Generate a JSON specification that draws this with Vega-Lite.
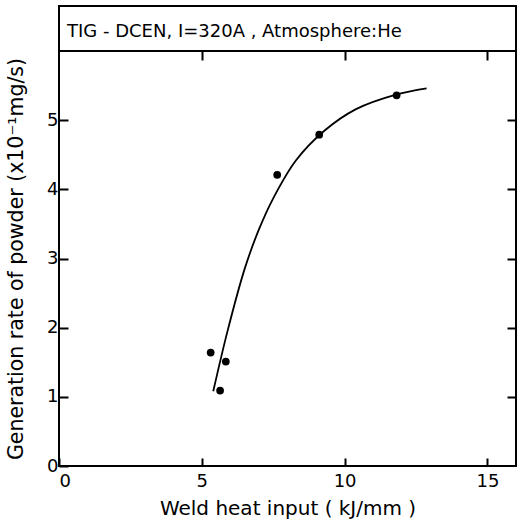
{
  "$schema": "https://vega.github.io/schema/vega-lite/v6.json",
  "padding": {"left": 5, "top": 5, "right": 2, "bottom": 2},
  "spacing": 0,
  "bounds": "flush",
  "config": {
    "font": "DejaVu Sans",
    "view": {"stroke": "black", "strokeWidth": 2},
    "axis": {
      "domain": false,
      "grid": false,
      "tickColor": "black",
      "tickWidth": 2,
      "labelColor": "black",
      "titleColor": "black",
      "labelFontSize": 18,
      "titleFontSize": 20,
      "titleFontWeight": "normal",
      "labelFont": "DejaVu Sans",
      "titleFont": "DejaVu Sans"
    }
  },
  "vconcat": [
    {
      "width": 457,
      "height": 45,
      "data": {"values": [{"label": "TIG - DCEN, I=320A , Atmosphere:He", "px": 0.28, "py": 0.42}]},
      "mark": {"type": "text", "align": "left", "baseline": "middle", "fontSize": 18, "color": "black", "font": "DejaVu Sans"},
      "encoding": {
        "x": {"field": "px", "type": "quantitative", "scale": {"domain": [0, 16]}, "axis": null},
        "y": {"field": "py", "type": "quantitative", "scale": {"domain": [0, 1]}, "axis": null},
        "text": {"field": "label"}
      }
    },
    {
      "width": 457,
      "height": 415,
      "layer": [
        {
          "data": {"values": [
            {"x": 5.40, "y": 1.08},
            {"x": 5.90, "y": 1.95},
            {"x": 6.50, "y": 2.85},
            {"x": 7.00, "y": 3.42},
            {"x": 7.50, "y": 3.87},
            {"x": 8.30, "y": 4.42},
            {"x": 9.30, "y": 4.85},
            {"x": 10.40, "y": 5.16},
            {"x": 11.80, "y": 5.37},
            {"x": 12.87, "y": 5.46}
          ]},
          "mark": {"type": "line", "interpolate": "catmull-rom", "color": "black", "strokeWidth": 1.8},
          "encoding": {
            "x": {"field": "x", "type": "quantitative", "scale": {"domain": [0, 16], "nice": false},
              "axis": {"orient": "bottom", "values": [0, 5, 10, 15], "tickSize": -8, "labelPadding": 14, "title": "Weld heat input ( kJ/mm )", "titlePadding": 8}},
            "y": {"field": "y", "type": "quantitative", "scale": {"domain": [0, 6], "nice": false},
              "axis": {"orient": "left", "values": [0, 1, 2, 3, 4, 5], "tickSize": -9, "labelPadding": 10, "title": "Generation rate of powder (x10⁻¹mg/s)", "titleFontSize": 20.5, "titlePadding": 20}}
          }
        },
        {
          "data": {"values": [
            {"x": 5.31, "y": 1.64},
            {"x": 5.84, "y": 1.51},
            {"x": 5.64, "y": 1.09},
            {"x": 7.64, "y": 4.21},
            {"x": 9.11, "y": 4.79},
            {"x": 11.82, "y": 5.36}
          ]},
          "mark": {"type": "circle", "color": "black", "opacity": 1, "size": 60},
          "encoding": {
            "x": {"field": "x", "type": "quantitative",
              "axis": {"orient": "top", "values": [5, 10, 15], "tickSize": -9, "labels": false, "title": null}},
            "y": {"field": "y", "type": "quantitative",
              "axis": {"orient": "right", "values": [1, 2, 3, 4, 5], "tickSize": -9, "labels": false, "title": null}}
          }
        }
      ],
      "resolve": {"axis": {"x": "independent", "y": "independent"}}
    }
  ]
}
